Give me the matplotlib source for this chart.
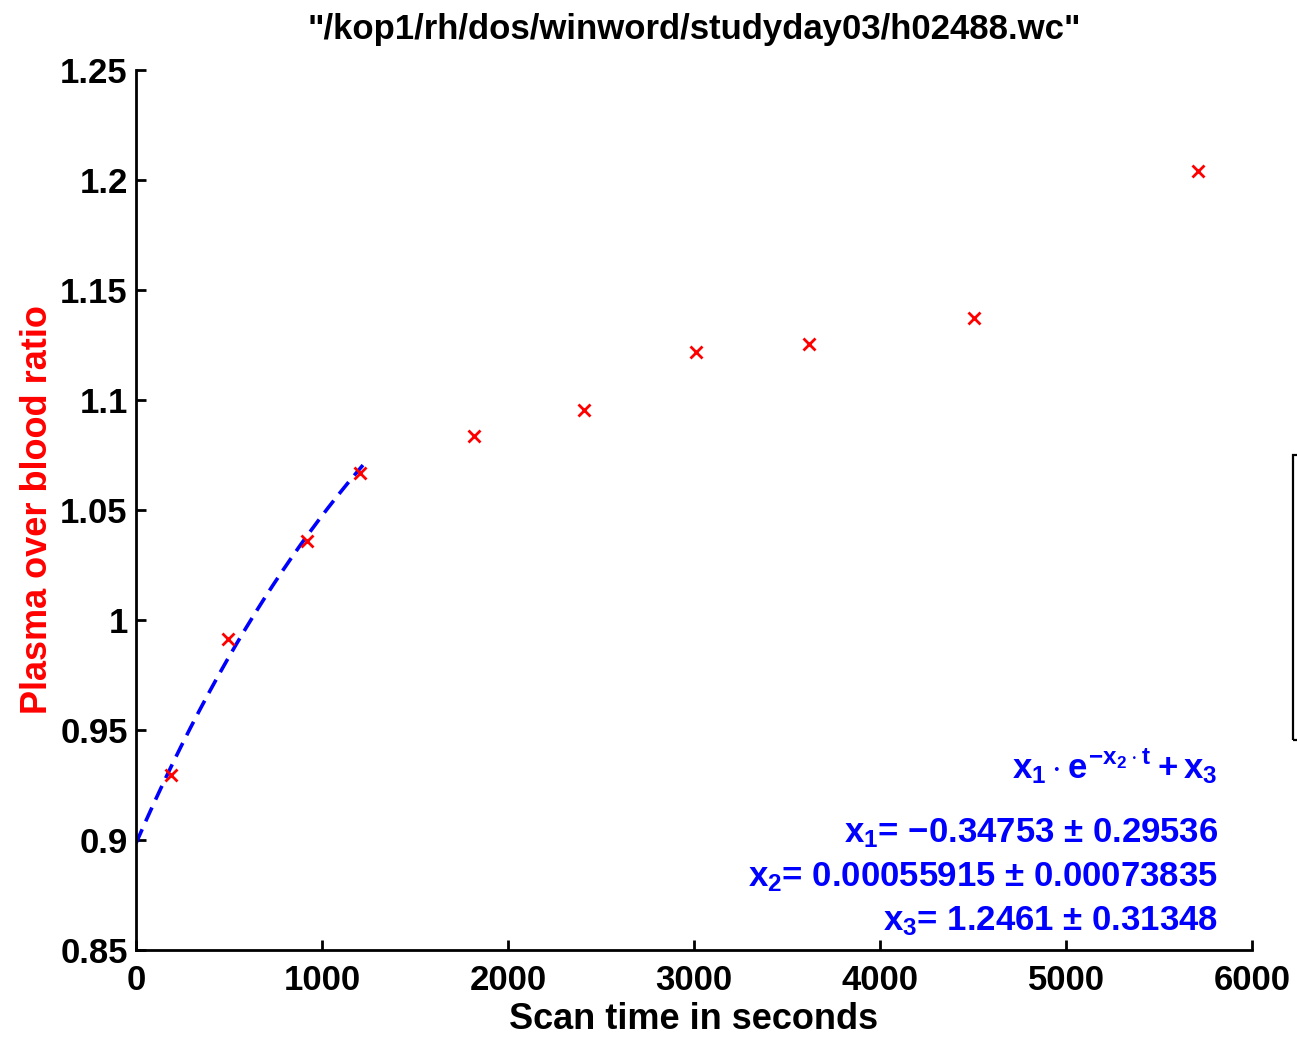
import numpy as np
import matplotlib
matplotlib.use("Agg")
import matplotlib.pyplot as plt
from matplotlib.patches import Rectangle

plt.rcParams['font.family'] = ['Liberation Sans', 'DejaVu Sans']
plt.rcParams['font.weight'] = 'bold'
plt.rcParams['mathtext.fontset'] = 'custom'
plt.rcParams['mathtext.rm'] = 'Liberation Sans:bold'
plt.rcParams['mathtext.it'] = 'Liberation Sans:bold'
plt.rcParams['mathtext.bf'] = 'Liberation Sans:bold'

# measured plasma/blood ratios
scan_t = [190, 495, 920, 1205, 1815, 2410, 3010, 3620, 4505, 5710]
ratio = [0.9295, 0.9914, 1.0359, 1.0668, 1.0836, 1.0955, 1.1218, 1.1255, 1.1373, 1.2041]

# fitted parameters of x1*exp(-x2*t)+x3 and their errors
x1, dx1 = -0.34753, 0.29536
x2, dx2 = 0.00055915, 0.00073835
x3, dx3 = 1.2461, 0.31348
fit_tmax = 1220

xticks = [0, 1000, 2000, 3000, 4000, 5000, 6000]
yticks = [0.85, 0.9, 0.95, 1.0, 1.05, 1.1, 1.15, 1.2, 1.25]
ytick_labels = ['0.85', '0.9', '0.95', '1', '1.05', '1.1', '1.15', '1.2', '1.25']

fig = plt.figure(figsize=(12.97, 10.37), dpi=100)
ax = fig.add_axes([0.1049, 0.0839, 0.8604, 0.8486])

t = np.linspace(0, fit_tmax, 200)
ax.plot(t, x1 * np.exp(-x2 * t) + x3, color=(0, 0, 1), lw=2.6,
        linestyle=(0, (4.2, 2.4)), zorder=2)
ax.plot(scan_t, ratio, linestyle='none', marker='x', color=(1, 0, 0),
        markersize=8, mew=2.0, zorder=3)

ax.set_xlim(0, 6000)
ax.set_ylim(0.85, 1.25)
ax.set_xticks(xticks)
ax.set_xticklabels([str(v) for v in xticks])
ax.set_yticks(yticks)
ax.set_yticklabels(ytick_labels)
ax.tick_params(direction='in', length=7, width=2, labelsize=25, pad=6)
ax.tick_params(axis='x', pad=10)
for s in ['top', 'right']:
    ax.spines[s].set_visible(False)
for s in ['left', 'bottom']:
    ax.spines[s].set_linewidth(2)

ax.set_title('"/kop1/rh/dos/winword/studyday03/h02488.wc"', fontsize=25,
             fontweight='bold', pad=22)
ax.set_xlabel('Scan time in seconds', fontsize=26, fontweight='bold', labelpad=4)
ax.set_ylabel('Plasma over blood ratio', fontsize=26, fontweight='bold',
              color=(1, 0, 0), labelpad=4)

blue = (0, 0, 1)
tx = 0.9695
ax.text(tx, 0.1955, r'$x_1 \cdot e^{-x_2 \cdot t} + x_3$', transform=ax.transAxes,
        ha='right', va='baseline', fontsize=25, color=blue)
ax.text(tx, 0.1227, r'$x_1$= $-$%.5f $\pm$ %.5f' % (-x1, dx1), transform=ax.transAxes,
        ha='right', va='baseline', fontsize=25, color=blue)
ax.text(tx, 0.0727, r'$x_2$= %.8f $\pm$ %.8f' % (x2, dx2), transform=ax.transAxes,
        ha='right', va='baseline', fontsize=25, color=blue)
ax.text(tx, 0.0227, r'$x_3$= %.4f $\pm$ %.5f' % (x3, dx3), transform=ax.transAxes,
        ha='right', va='baseline', fontsize=25, color=blue)

# edge of a neighbouring panel, cut off by the figure border
fig.patches.append(Rectangle((0.9969, 0.2864), 0.1, 0.2748, transform=fig.transFigure,
                             fill=False, edgecolor='black', lw=1.6))

fig.savefig('out.png', dpi=100)
